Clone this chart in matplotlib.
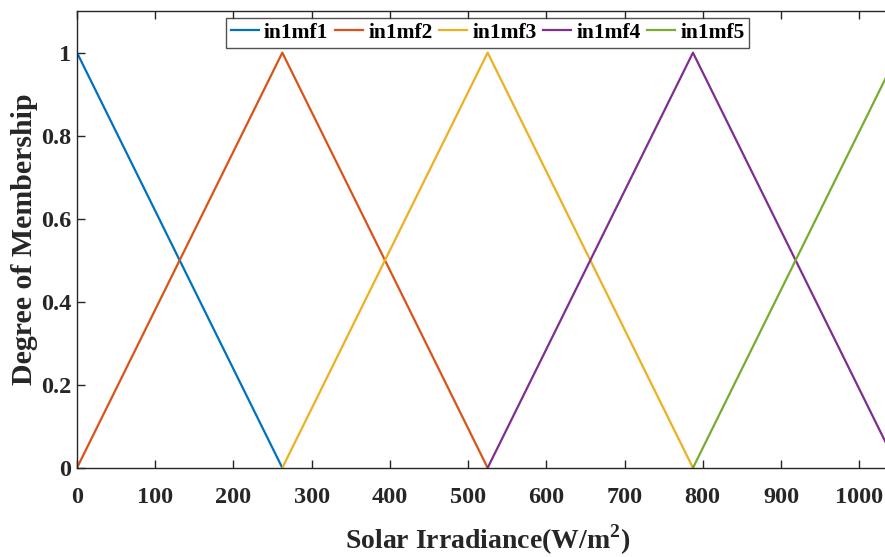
import matplotlib.pyplot as plt
import numpy as np

# membership functions (triangles), breakpoints
names = ['in1mf1', 'in1mf2', 'in1mf3', 'in1mf4', 'in1mf5']
x_pts = [[-262.5, 0, 262.5],
         [0, 262.5, 525],
         [262.5, 525, 787.5],
         [525, 787.5, 1050],
         [787.5, 1050, 1312.5]]
y_pts = [0, 1, 0]
colors = ['#0072BD', '#D95319', '#EDB120', '#7E2F8E', '#77AC30']
xticks = [0, 100, 200, 300, 400, 500, 600, 700, 800, 900, 1000]
yticks = [0, 0.2, 0.4, 0.6, 0.8, 1]

plt.rcParams['font.family'] = 'Liberation Serif'
plt.rcParams['font.weight'] = 'bold'
plt.rcParams['mathtext.fontset'] = 'custom'
plt.rcParams['mathtext.rm'] = 'Liberation Serif'
plt.rcParams['mathtext.bf'] = 'Liberation Serif:bold'

fig = plt.figure(figsize=(8.85, 5.57), dpi=100)
ax = fig.add_axes([0.087, 0.160, 0.928, 0.820])

for xs, c, n in zip(x_pts, colors, names):
    ax.plot(xs, y_pts, color=c, lw=1.6, label=n)

ax.set_xlim(0, 1050)
ax.set_ylim(0, 1.1)
ax.set_xticks(xticks)
ax.set_yticks(yticks)
ax.set_xticklabels([str(t) for t in xticks])
ax.set_yticklabels(['0', '0.2', '0.4', '0.6', '0.8', '1'])
ax.tick_params(direction='in', top=True, right=True, labelsize=17.5, length=6,
               width=1, color='#262626', labelcolor='#262626')
ax.tick_params(axis='x', pad=14)
ax.tick_params(axis='y', pad=4)
for s in ax.spines.values():
    s.set_color('#262626')
    s.set_linewidth(1)

ax.set_xlabel('Solar Irradiance(W/m$^{\\mathbf{2}}$)', fontsize=20, fontweight='bold',
              color='#262626', labelpad=10)
ax.set_ylabel('Degree of Membership', fontsize=21.5, fontweight='bold',
              color='#262626', labelpad=2)

leg = ax.legend(loc='upper center', ncol=5, fontsize=15.5, frameon=True, fancybox=False,
                borderpad=0.22, borderaxespad=0, handlelength=1.3, handletextpad=0.25,
                columnspacing=0.3, bbox_to_anchor=(0.5, 0.985))
leg.get_frame().set_edgecolor('#262626')
leg.get_frame().set_linewidth(1)
for t in leg.get_texts():
    t.set_fontweight('bold')

fig.savefig('out.png', dpi=100)
